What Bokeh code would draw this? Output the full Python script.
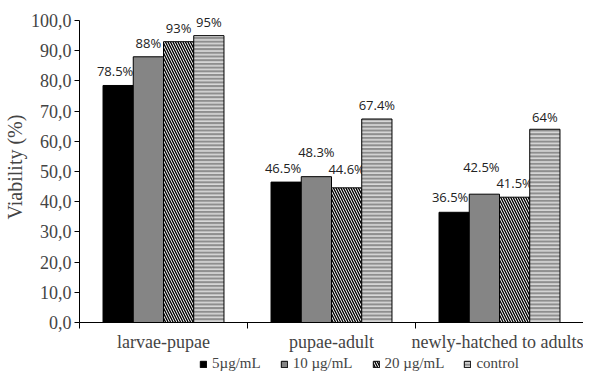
from bokeh.plotting import figure
from bokeh.layouts import column
from bokeh.models import (ColumnDataSource, Range1d, FixedTicker, CustomJSTickFormatter,
                          Legend, LegendItem)
from bokeh.core.properties import value
from bokeh.embed import file_html
from bokeh.resources import INLINE

# ---- data ----
stages = ["larvae-pupae", "pupae-adult", "newly-hatched to adults"]
treatments = ["5\u00b5g/mL", "10 \u00b5g/mL", "20 \u00b5g/mL", "control"]
v_5 = [78.5, 46.5, 36.5]
v_10 = [88.0, 48.3, 42.5]
v_20 = [93.0, 44.6, 41.5]
v_ctrl = [95.0, 67.4, 64.0]
labels_5 = ["78.5%", "46.5%", "36.5%"]
labels_10 = ["88%", "48.3%", "42.5%"]
labels_20 = ["93%", "44.6%", "41.5%"]
labels_ctrl = ["95%", "67.4%", "64%"]
y_ticks = list(range(0, 101, 10))

series = [v_5, v_10, v_20, v_ctrl]
series_labels = [labels_5, labels_10, labels_20, labels_ctrl]

# ---- styles ----
bar_w = 0.18
styles = [
    dict(fill_color="black"),
    dict(fill_color="#858585"),
    dict(fill_color="white", hatch_pattern="\\", hatch_color="black", hatch_scale=5, hatch_weight=1.4),
    dict(fill_color="#8e8e8e", hatch_pattern="-", hatch_color="white", hatch_scale=3.7, hatch_weight=1.1),
]
# extra lift (px) of individual value labels above their bar, and small x shifts
lift = [[14, 14, 15], [14, 25, 27], [14, 19, 14], [14, 14, 12]]
shift = [[-3, -3, -4], [0, 0, -3], [0, 0, 0], [0, 0, 0]]

p = figure(frame_width=504, frame_height=311, output_backend="svg", toolbar_location=None,
           x_range=Range1d(0, 3), y_range=Range1d(0, 103),
           min_border_left=74, min_border_right=0, min_border_top=11, min_border_bottom=0)
p.background_fill_color = "white"
p.border_fill_color = "white"
p.outline_line_color = None
p.xgrid.visible = False
p.ygrid.visible = False

for j, (vals, labs) in enumerate(zip(series, series_labels)):
    xs = [i + 0.5 + (j - 1.5) * bar_w for i in range(len(stages))]
    src = ColumnDataSource(dict(x=xs, top=vals, lab=labs,
                                dy=[-l for l in lift[j]], dx=shift[j]))
    p.vbar(x="x", top="top", width=bar_w, source=src, line_color="black",
           line_width=1, **styles[j])
    p.text(x="x", y="top", text="lab", source=src, x_offset="dx", y_offset="dy",
           text_align="center", text_baseline="middle", text_font=value("Open Sans"),
           text_font_size="13px", text_color="#222222")

# y axis
ya = p.yaxis[0]
ya.ticker = FixedTicker(ticks=y_ticks)
ya.bounds = (0, 100)
ya.formatter = CustomJSTickFormatter(code="return tick.toFixed(1).replace('.', ',');")
ya.axis_label = "Viability (%)"
ya.axis_label_text_font = "Liberation Serif"
ya.axis_label_text_font_size = "20px"
ya.axis_label_text_font_style = "normal"
ya.axis_label_standoff = 2
ya.major_label_text_font = "Liberation Serif"
ya.major_label_text_font_size = "18px"
ya.major_label_standoff = 3
ya.major_tick_in = 0
ya.major_tick_out = 5
ya.minor_tick_line_color = None
ya.axis_line_color = "black"
ya.major_tick_line_color = "black"

# x axis
xa = p.xaxis[0]
xa.ticker = FixedTicker(ticks=[0.5, 1.5, 2.5], minor_ticks=[0, 1, 2, 3])
xa.major_label_overrides = {0.5: stages[0], 1.5: stages[1], 2.5: stages[2]}
xa.major_tick_line_color = None
xa.minor_tick_in = 0
xa.minor_tick_out = 6
xa.minor_tick_line_color = "black"
xa.axis_line_color = "black"
xa.major_label_text_font = "Liberation Serif"
xa.major_label_text_font_size = "18px"
xa.major_label_standoff = 3

# ---- legend strip (separate small figure) ----
q = figure(width=578, height=18, output_backend="svg", toolbar_location=None,
           x_range=Range1d(0, 1), y_range=Range1d(0, 1),
           x_axis_location=None, y_axis_location=None, min_border=0)
q.grid.visible = False
q.outline_line_color = None
q.background_fill_color = "white"
q.border_fill_color = "white"
items = []
hidden = ColumnDataSource(dict(x=[10.0], top=[0.5]))
for j in range(len(treatments)):
    r = q.vbar(x="x", top="top", width=0.1, source=hidden, line_color="black",
               line_width=1, **styles[j])
    items.append(LegendItem(label=treatments[j], renderers=[r], index=0))
legend = Legend(items=items, orientation="horizontal", location=(120, 0),
                label_text_font="Liberation Serif", label_text_font_size="15px",
                glyph_width=8, glyph_height=8, label_standoff=5, spacing=19,
                padding=0, margin=0, border_line_color=None, background_fill_alpha=0)
q.add_layout(legend, "center")

open("out.html", "w").write(file_html(column(p, q, spacing=0), INLINE))
